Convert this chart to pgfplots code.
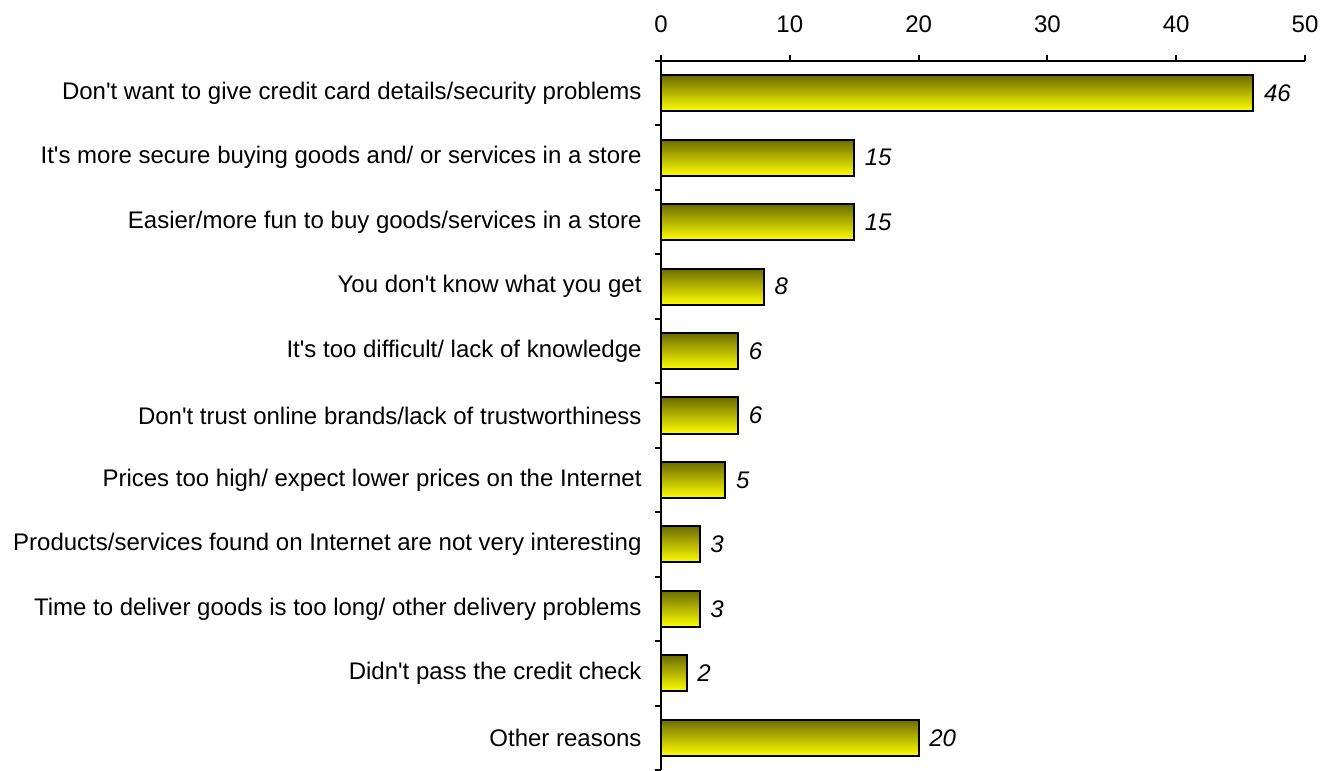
\documentclass[border=0pt]{standalone}
\usepackage{pgfplots}
\pgfplotsset{compat=1.18}
\usepackage{fontspec}
\setmainfont{Liberation Sans}[Ligatures=TeXOff]
\definecolor{darkolive}{RGB}{108,108,0}
\definecolor{brightyel}{RGB}{255,255,0}
\pgfplotsset{mybar/.style={draw=black, line width=1pt, top color=darkolive, bottom color=brightyel}}
\begin{document}
\begin{tikzpicture}
\begin{axis}[name=a,
  scale only axis, width=322pt, height=354.5pt,
  xbar, bar shift=0pt, y dir=reverse,
  xmin=0, xmax=50, ymin=-0.5, ymax=10.5,
  axis x line*=top, axis y line*=left,
  axis line style={-, line width=1pt, black},
  tick align=outside, major tick length=3.2pt,
  tick style={line width=1pt, black},
  xtick={0,10,20,30,40,50},
  ytick={-0.5,0.5,1.5,2.5,3.5,4.5,5.5,6.5,7.5,8.5,9.5,10.5},
  y tick label as interval,
  yticklabels={Don't want to give credit card details/security problems,
    It's more secure buying goods and/ or services in a store,
    Easier/more fun to buy goods/services in a store,
    You don't know what you get,
    It's too difficult/ lack of knowledge,
    Don't trust online brands/lack of trustworthiness,
    Prices too high/ expect lower prices on the Internet,
    Products/services found on Internet are not very interesting,
    Time to deliver goods is too long/ other delivery problems,
    Didn't pass the credit check,
    Other reasons},
  /pgf/number format/assume math mode=true,
  tick label style={font=\fontsize{12}{14}\selectfont},
  yticklabel style={xshift=-3pt},
  xticklabel style={yshift=7.5pt},
  bar width=0.56,
  nodes near coords,
  every node near coord/.append style={font=\fontsize{12}{14}\selectfont\itshape, anchor=west, xshift=1.5pt},
  clip=false,
]
\addplot[mybar] coordinates {(46,0)};
\addplot[mybar] coordinates {(15,1)};
\addplot[mybar] coordinates {(15,2)};
\addplot[mybar] coordinates {(8,3)};
\addplot[mybar] coordinates {(6,4)};
\addplot[mybar] coordinates {(6,5)};
\addplot[mybar] coordinates {(5,6)};
\addplot[mybar] coordinates {(3,7)};
\addplot[mybar] coordinates {(3,8)};
\addplot[mybar] coordinates {(2,9)};
\addplot[mybar] coordinates {(20,10)};
\end{axis}
\pgfresetboundingbox
\path ([xshift=-330.5pt]a.south west) rectangle ([xshift=15pt,yshift=30.5pt]a.north east);
\end{tikzpicture}
\end{document}
